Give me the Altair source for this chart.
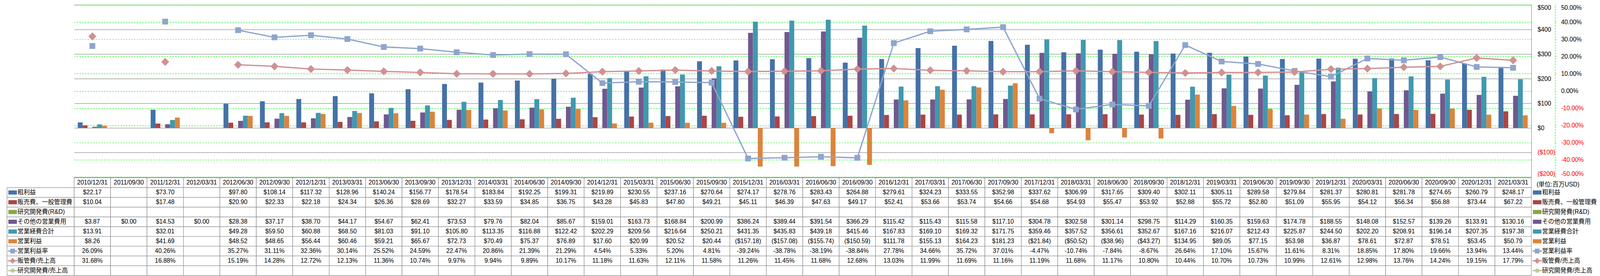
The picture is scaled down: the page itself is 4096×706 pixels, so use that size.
import altair as alt
import pandas as pd

# ---------------- data ----------------
dates = [
    "2010/12/31", "2011/09/30", "2011/12/31", "2012/03/31", "2012/06/30", "2012/09/30",
    "2012/12/31", "2013/03/31", "2013/06/30", "2013/09/30", "2013/12/31", "2014/03/31",
    "2014/06/30", "2014/09/30", "2014/12/31", "2015/03/31", "2015/06/30", "2015/09/30",
    "2015/12/31", "2016/03/31", "2016/06/30", "2016/09/30", "2016/12/31", "2017/03/31",
    "2017/06/30", "2017/09/30", "2017/12/31", "2018/03/31", "2018/06/30", "2018/09/30",
    "2018/12/31", "2019/03/31", "2019/06/30", "2019/09/30", "2019/12/31", "2020/03/31",
    "2020/06/30", "2020/09/30", "2020/12/31", "2021/03/31",
]

gross_profit = [
    22.17, None, 73.70, None, 97.80, 108.14, 117.32, 128.96, 140.24, 156.77, 178.54, 183.84,
    192.25, 199.31, 219.89, 230.55, 237.16, 270.64, 274.17, 278.76, 283.43, 264.88, 279.61,
    324.23, 333.55, 352.98, 337.62, 306.99, 317.65, 309.40, 302.11, 305.11, 289.58, 279.84,
    281.37, 280.81, 281.78, 274.65, 260.79, 248.17,
]
sga_expense = [
    10.04, None, 17.48, None, 20.90, 22.33, 22.18, 24.34, 26.36, 28.69, 32.27, 33.59,
    34.85, 36.75, 43.28, 45.83, 47.80, 49.21, 45.11, 46.39, 47.63, 49.17, 52.41,
    53.66, 53.74, 54.66, 54.68, 54.93, 55.47, 53.92, 52.88, 55.72, 52.80, 51.09,
    55.95, 54.12, 56.34, 56.88, 73.44, 67.22,
]
rnd_expense = [None] * 40
other_opex = [
    3.87, 0.00, 14.53, 0.00, 28.38, 37.17, 38.70, 44.17, 54.67, 62.41, 73.53, 79.76,
    82.04, 85.67, 159.01, 163.73, 168.84, 200.99, 386.24, 389.44, 391.54, 366.29, 115.42,
    115.43, 115.58, 117.10, 304.78, 302.58, 301.14, 298.75, 114.29, 160.35, 159.63, 174.78,
    188.55, 148.08, 152.57, 139.26, 133.91, 130.16,
]
total_opex = [
    13.91, None, 32.01, None, 49.28, 59.50, 60.88, 68.50, 81.03, 91.10, 105.80, 113.35,
    116.88, 122.42, 202.29, 209.56, 216.64, 250.21, 431.35, 435.83, 439.18, 415.46, 167.83,
    169.10, 169.32, 171.75, 359.46, 357.52, 356.61, 352.67, 167.16, 216.07, 212.43, 225.87,
    244.50, 202.20, 208.91, 196.14, 207.35, 197.38,
]
operating_income = [
    8.26, None, 41.69, None, 48.52, 48.65, 56.44, 60.46, 59.21, 65.67, 72.73, 70.49,
    75.37, 76.89, 17.60, 20.99, 20.52, 20.44, -157.18, -157.08, -155.74, -150.59, 111.78,
    155.13, 164.23, 181.23, -21.84, -50.52, -38.96, -43.27, 134.95, 89.05, 77.15, 53.98,
    36.87, 78.61, 72.87, 78.51, 53.45, 50.79,
]
operating_margin = [
    26.09, None, 40.26, None, 35.27, 31.11, 32.36, 30.14, 25.52, 24.59, 22.47, 20.86,
    21.39, 21.29, 4.54, 5.33, 5.20, 4.81, -39.24, -38.78, -38.19, -38.84, 27.78,
    34.66, 35.72, 37.01, -4.47, -10.74, -7.84, -8.67, 26.64, 17.10, 15.67, 11.61,
    8.31, 18.85, 17.80, 19.66, 13.94, 13.44,
]
sga_ratio = [
    31.68, None, 16.88, None, 15.19, 14.28, 12.72, 12.13, 11.36, 10.74, 9.97, 9.94,
    9.89, 10.17, 11.18, 11.63, 12.11, 11.58, 11.26, 11.45, 11.68, 12.68, 13.03,
    11.99, 11.69, 11.16, 11.19, 11.68, 11.17, 10.80, 10.44, 10.70, 10.73, 10.99,
    12.61, 12.98, 13.76, 14.24, 19.15, 17.79,
]
rnd_ratio = [None] * 40

bar_series = ["粗利益", "販売費、一般管理費", "研究開発費(R&D)", "その他の営業費用", "営業経費合計", "営業利益"]
bar_values = [gross_profit, sga_expense, rnd_expense, other_opex, total_opex, operating_income]
bar_colors = ["#4572A7", "#AA4643", "#89A54E", "#71588F", "#4198AF", "#DB843D"]

line_series = ["営業利益率", "販管費/売上高", "研究開発費/売上高"]
line_values = [operating_margin, sga_ratio, rnd_ratio]
line_colors = ["#8EA5CD", "#D09192", "#B8CD97"]
line_shapes = ["square", "diamond", "circle"]

unit_label = "(単位:百万USD)"

# ---------------- styling ----------------
W = 3734
H = 441
ROW_H = 25
FS = 15.6
FONT = "Liberation Sans, Noto Sans CJK JP, sans-serif"
GRAY = "#8C8C8C"
GREEN = "#00FF00"

# ---------------- tables built from the arrays ----------------
bar_rows = []
for s, vals in zip(bar_series, bar_values):
    for d, v in zip(dates, vals):
        if v is not None:
            bar_rows.append({"date": d, "series": s, "value": v})
bar_df = pd.DataFrame(bar_rows)

line_rows = []
for s, vals in zip(line_series, line_values):
    seg = 0
    for d, v in zip(dates, vals):
        if v is None:
            seg += 1
            continue
        line_rows.append({"date": d, "series": s, "value": v, "segment": f"{s}-{seg}"})
line_df = pd.DataFrame(line_rows)


def fmt_money(v):
    if v is None:
        return ""
    return f"(${-v:,.2f})" if v < 0 else f"${v:,.2f}"


def fmt_pct(v):
    if v is None:
        return ""
    return f"{v:.2f}%"


table_rows = [{"row": "_hdr", "date": d, "label": d} for d in dates]
for s, vals in zip(bar_series, bar_values):
    for d, v in zip(dates, vals):
        table_rows.append({"row": s, "date": d, "label": fmt_money(v)})
for s, vals in zip(line_series, line_values):
    for d, v in zip(dates, vals):
        table_rows.append({"row": s, "date": d, "label": fmt_pct(v)})
table_df = pd.DataFrame(table_rows)

legend_df = pd.DataFrame({
    "row": bar_series + line_series,
    "kind": ["bar"] * len(bar_series) + ["line"] * len(line_series),
})
unit_df = pd.DataFrame({"row": ["_hdr"], "label": [unit_label]})

# ---------------- top chart ----------------
x_top = alt.X("date:N", scale=alt.Scale(domain=dates, paddingInner=0.2, paddingOuter=0.1), axis=None)

money_axis = alt.Axis(
    orient="right", values=[-200, -100, 0, 100, 200, 300, 400, 500], grid=True,
    gridColor=GRAY, gridWidth=1.2, domain=True, domainColor=GRAY, domainWidth=1.2,
    ticks=False, tickSize=0, labelPadding=15.6, labelFlush=True, title="",
    labelExpr="datum.value < 0 ? '($' + abs(datum.value) + ')' : '$' + datum.value",
    labelColor={"condition": {"test": "datum.value < 0", "value": "#FF0000"}, "value": "#000000"},
)
pct_axis = alt.Axis(
    orient="right", offset=60.8, values=list(range(-50, 51, 10)), grid=True,
    gridColor=GREEN, gridDash=[4, 3], gridWidth=1.2, domain=True, domainColor=GREEN,
    domainDash=[4, 3], domainWidth=1.2, ticks=True, tickColor=GREEN, tickSize=3,
    labelPadding=12, labelFlush=True, title="",
    labelExpr="(datum.value < 0 ? '-' : '') + format(abs(datum.value) / 100, '.2%')",
    labelColor={"condition": {"test": "datum.value < 0", "value": "#FF0000"}, "value": "#000000"},
)

bars = alt.Chart(bar_df).mark_bar().encode(
    x=x_top,
    xOffset=alt.XOffset("series:N", scale=alt.Scale(domain=bar_series, paddingInner=0, paddingOuter=0)),
    y=alt.Y("value:Q", scale=alt.Scale(domain=[-200, 500], nice=False), axis=money_axis),
    color=alt.Color("series:N", scale=alt.Scale(domain=bar_series, range=bar_colors), legend=None),
)

y_pct = alt.Y("value:Q", scale=alt.Scale(domain=[-50, 50], nice=False), axis=pct_axis)
marker_sizes = {"square": 220, "diamond": 420, "circle": 200}

pct_layers = []
for name, color, shape in zip(line_series[:2], line_colors[:2], line_shapes[:2]):
    base = alt.Chart(line_df).transform_filter(alt.datum.series == name)
    pct_layers.append(
        base.mark_line(color=color, strokeWidth=3.3).encode(x=x_top, y=y_pct, detail="segment:N")
    )
    pct_layers.append(
        base.mark_point(shape=shape, size=marker_sizes[shape], filled=True, opacity=1, color=color)
        .encode(x=x_top, y=y_pct)
    )

top = alt.layer(bars, alt.layer(*pct_layers)).resolve_scale(y="independent").properties(width=W, height=H)

# ---------------- data table ----------------
x_tab = alt.X("date:N", scale=alt.Scale(domain=dates, paddingInner=0, paddingOuter=0), axis=None)
row_domain = ["_hdr"] + bar_series + line_series
y_tab = alt.Y("row:N", scale=alt.Scale(domain=row_domain, paddingInner=0, paddingOuter=0), axis=None)
legend_color = alt.Color("row:N", scale=alt.Scale(domain=bar_series + line_series,
                                                  range=bar_colors + line_colors), legend=None)

cells = alt.Chart(table_df).mark_rect(fill="white", stroke=GRAY, strokeWidth=1.2).encode(x=x_tab, y=y_tab)
cell_text = alt.Chart(table_df).mark_text(fontSize=FS, color="black").encode(x=x_tab, y=y_tab, text="label:N")

rh_cells = alt.Chart(legend_df).mark_rect(fill="white", stroke=GRAY, strokeWidth=1.2).encode(
    x=alt.value(-172), x2=alt.value(0), y=y_tab
)

RECT_SHAPE = "M-1,-0.48L1,-0.48L1,0.48L-1,0.48Z"
legend_marker_sizes = {"square": 150, "diamond": 230, "circle": 120}


def legend_layers(sw_x, txt_x):
    layers = []
    base = alt.Chart(legend_df)
    layers.append(
        base.transform_filter(alt.datum.kind == "bar")
        .mark_point(shape=RECT_SHAPE, size=484, filled=True, opacity=1)
        .encode(x=alt.value(sw_x), y=y_tab, color=legend_color)
    )
    layers.append(
        base.transform_filter(alt.datum.kind == "line")
        .mark_point(shape="M-1,0L1,0", size=576, filled=False, strokeWidth=3.3, opacity=1)
        .encode(x=alt.value(sw_x), y=y_tab, color=legend_color)
    )
    for name, shape in zip(line_series, line_shapes):
        layers.append(
            base.transform_filter(alt.datum.row == name)
            .mark_point(shape=shape, size=legend_marker_sizes[shape], filled=True, opacity=1)
            .encode(x=alt.value(sw_x), y=y_tab, color=legend_color)
        )
    layers.append(
        base.mark_text(align="left", fontSize=FS, color="black")
        .encode(x=alt.value(txt_x), y=y_tab, text="row:N")
    )
    return layers


unit_text = alt.Chart(unit_df).mark_text(align="left", dy=5, fontSize=FS, color="black").encode(
    x=alt.value(W + 13.5), y=y_tab, text="label:N"
)

table = alt.layer(
    cells, cell_text, rh_cells,
    *legend_layers(-157.6, -145.1),
    *legend_layers(W + 15, W + 27.5),
    unit_text,
).properties(width=W, height=ROW_H * len(row_domain))

chart = (
    alt.vconcat(top, table, spacing=2, bounds="flush",
                padding={"left": 5, "top": 3, "right": 0, "bottom": 0})
    .resolve_scale(x="independent", y="independent", color="independent")
    .configure(font=FONT)
    .configure_view(stroke="transparent", strokeWidth=0, strokeOpacity=0)
    .configure_axis(labelFont=FONT, labelFontSize=FS)
    .configure_text(font=FONT)
)

chart.save("out.html", embed_options={"renderer": "svg", "actions": False})
